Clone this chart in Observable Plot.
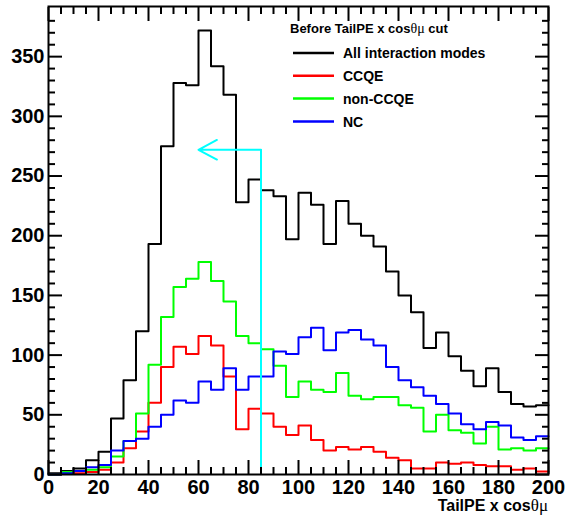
<!DOCTYPE html>
<html><head><meta charset="utf-8">
<script src="https://cdn.jsdelivr.net/npm/d3@7"></script>
<script src="https://cdn.jsdelivr.net/npm/@observablehq/plot@0.6"></script>
<style>
html,body{margin:0;padding:0;background:#fff;}
#chart svg{display:block;}
</style>
</head><body><div id="chart"></div>
<script>
// Bin lower edges (width 5) and upper limit
const binEdges = [0,5,10,15,20,25,30,35,40,45,50,55,60,65,70,75,80,85,90,95,100,105,110,115,120,125,130,135,140,145,150,155,160,165,170,175,180,185,190,195];
const binMax = 200;

// Series (counts per bin)
const allModes = [1,3,5,12,19,47,79,120,193,275,328,326,372,342,318,228,247,238,233,197,236,226,193,229,210,200,191,170,150,136,106,119,99,87,74,89,69,59,57,58];
const ccqe     = [0,1,1,2,4,10,22,36,60,90,107,101,116,108,82,38,55,51,40,33,41,29,20,23,21,23,19,14,12,5,5,10,9,10,8,7,7,4,5,2.5];
const nonCcqe  = [0,2,3,4,6,15,28,51,92,132,157,164,178,162,145,116,110,105,91,65,78,71,69,85,66,63,65,65,58,56,36,50,37,35,26,40,21,22,20,22];
const nc       = [0,1,3,6,8,20,28,30,40,50,62,60,78,71,89,71,82,82,103,101,115,123,104,119,121,113,108,90,79,73,66,59,51,42,38,44,41,31,29,32];

const seriesNames  = ["All interaction modes", "CCQE", "non-CCQE", "NC"];
const seriesColors = ["#000000", "#ff0000", "#00ff00", "#0000ff"];

// Cut marker
const cutValue = 85;
const arrowLevel = 272;
const arrowTip = 60;

// Ticks
const xMajorTicks = [0,20,40,60,80,100,120,140,160,180,200];
const xMinorTicks = [5,10,15,25,30,35,45,50,55,65,70,75,85,90,95,105,110,115,125,130,135,145,150,155,165,170,175,185,190,195];
const yMajorTicks = [0,50,100,150,200,250,300,350];
const yMinorTicks = [10,20,30,40,60,70,80,90,110,120,130,140,160,170,180,190,210,220,230,240,260,270,280,290,310,320,330,340,360,370,380];

const legendTitle = ["Before TailPE x cos", "θμ", " cut"];
const xTitle = ["TailPE x cos", "θμ"];

// Build step table
const seriesValues = [allModes, ccqe, nonCcqe, nc];
const steps = [];
seriesValues.forEach((vals, s) => {
  vals.forEach((v, i) => steps.push({series: seriesNames[s], x: binEdges[i], y: v}));
  steps.push({series: seriesNames[s], x: binMax, y: vals[vals.length - 1]});
});

const FONT = "'Liberation Sans', Arial, Helvetica, sans-serif";
const W = 568, H = 515, ML = 48, MR = 20, MT = 6, MB = 41;
const MAJ = 14, MIN = 7;
const noText = {tickFormat: () => "", label: null, strokeWidth: 2};

const plot = Plot.plot({
  width: W, height: H,
  marginLeft: ML, marginRight: MR, marginTop: MT, marginBottom: MB,
  style: {fontFamily: FONT, background: "white", color: "black"},
  x: {domain: [0, binMax]},
  y: {domain: [0, 392]},
  color: {domain: seriesNames, range: seriesColors},
  marks: [
    Plot.line(steps, {x: "x", y: "y", z: "series", stroke: "series", curve: "step-after", strokeWidth: 2}),
    Plot.ruleX([cutValue], {y1: 0, y2: arrowLevel, stroke: "#00ffff", strokeWidth: 2}),
    Plot.arrow([{x1: cutValue, x2: arrowTip, y: arrowLevel}], {x1: "x1", x2: "x2", y1: "y", y2: "y", stroke: "#00ffff", strokeWidth: 2, headAngle: 56, headLength: 19}),
    // inward ticks: positive tick lengths, shifted inside the frame
    Plot.axisX({anchor: "bottom", ticks: xMajorTicks, tickSize: MAJ, dy: -MAJ, ...noText}),
    Plot.axisX({anchor: "bottom", ticks: xMinorTicks, tickSize: MIN, dy: -MIN, ...noText}),
    Plot.axisX({anchor: "top", ticks: xMajorTicks, tickSize: MAJ, dy: MAJ, ...noText}),
    Plot.axisX({anchor: "top", ticks: xMinorTicks, tickSize: MIN, dy: MIN, ...noText}),
    Plot.axisY({anchor: "left", ticks: yMajorTicks, tickSize: MAJ, dx: MAJ, ...noText}),
    Plot.axisY({anchor: "left", ticks: yMinorTicks, tickSize: MIN, dx: MIN, ...noText}),
    Plot.axisY({anchor: "right", ticks: yMajorTicks, tickSize: MAJ, dx: -MAJ, ...noText}),
    Plot.axisY({anchor: "right", ticks: yMinorTicks, tickSize: MIN, dx: -MIN, ...noText}),
    Plot.axisX({anchor: "bottom", ticks: xMajorTicks, tickSize: 0, tickPadding: 5, label: null, fontSize: 20, fontWeight: "bold"}),
    Plot.axisY({anchor: "left", ticks: yMajorTicks, tickSize: 0, tickPadding: 4, label: null, fontSize: 20, fontWeight: "bold"}),
    Plot.frame({strokeWidth: 2})
  ]
});

document.getElementById("chart").appendChild(plot);
const svg = d3.select(plot);

// Legend
const lg = svg.append("g").attr("font-family", FONT).attr("font-weight", "bold").attr("text-anchor", "start");
const lt = lg.append("text").attr("x", 290).attr("y", 33).attr("font-size", 13);
lt.append("tspan").text(legendTitle[0]);
lt.append("tspan").attr("font-family", "'Liberation Serif', serif").attr("font-weight", "normal").attr("font-size", 14).text(legendTitle[1]);
lt.append("tspan").text(legendTitle[2]);
seriesNames.forEach((name, i) => {
  const y = 53 + i * 22.8;
  lg.append("line").attr("x1", 293).attr("x2", 334).attr("y1", y).attr("y2", y)
    .attr("stroke", seriesColors[i]).attr("stroke-width", 2.5);
  lg.append("text").attr("x", 343).attr("y", y + 5.3).attr("font-size", 14).text(name);
});

// X axis title
const xt = svg.append("text").attr("x", 548).attr("y", 511).attr("text-anchor", "end")
  .attr("font-family", FONT).attr("font-weight", "bold").attr("font-size", 16);
xt.append("tspan").text(xTitle[0]);
xt.append("tspan").attr("font-family", "'Liberation Serif', serif").attr("font-weight", "normal").attr("font-size", 17).text(xTitle[1]);
</script>
</body></html>
